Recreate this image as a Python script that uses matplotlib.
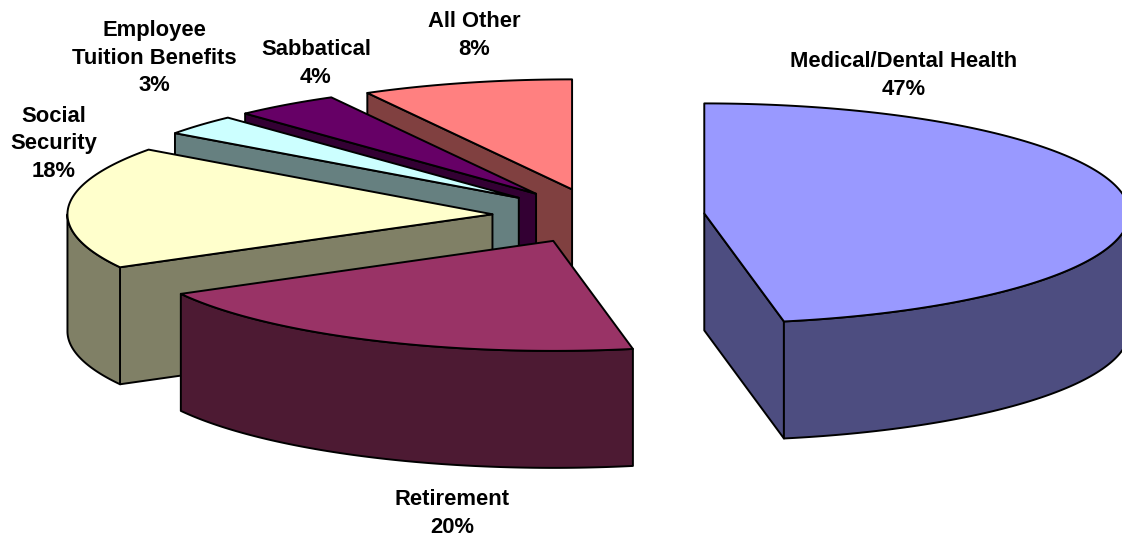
import numpy as np
import matplotlib
matplotlib.use("Agg")
import matplotlib.pyplot as plt
from matplotlib.patches import Polygon

# Data, clockwise from 12 o'clock
categories = ["Medical/Dental Health", "Retirement", "Social\nSecurity",
              "Employee\nTuition Benefits", "Sabbatical", "All Other"]
values = [47, 20, 18, 3, 4, 8]
top_colors = ["#9999FF", "#993366", "#FFFFCC", "#CCFFFF", "#660066", "#FF8080"]
side_colors = ["#4D4D80", "#4D1A33", "#808066", "#668080", "#330033", "#804040"]
label_xy = [(904, 75.5), (452, 513.5), (54, 144), (154, 58), (316, 63.5), (474, 35.5)]

# Projection of the pie onto the figure, in pixels
CX, CY = 598.5, 216
RX, RY = 425, 110
DEPTH = 117
EXPLODE = 0.25
DRAW_ORDER = [5, 4, 3, 2, 0, 1]

fig = plt.figure(figsize=(11.22, 5.37), dpi=100, facecolor="white")
ax = fig.add_axes([0, 0, 1, 1])
ax.set_xlim(0, 1122)
ax.set_ylim(537, 0)
ax.axis("off")


def rim(center, deg):
    t = np.radians(deg)
    return np.column_stack([center[0] + RX * np.sin(t), center[1] - RY * np.cos(t)])


def shape(points, color):
    ax.add_patch(Polygon(points, closed=True, facecolor=color, edgecolor="black",
                         linewidth=1.4, joinstyle="round"))


edges = np.concatenate([[0], np.cumsum(values)]) / np.sum(values) * 360
for i in DRAW_ORDER:
    a0, a1 = edges[i], edges[i + 1]
    mid = np.radians((a0 + a1) / 2)
    c = (CX + EXPLODE * RX * np.sin(mid), CY - EXPLODE * RY * np.cos(mid))
    down = np.array([0, DEPTH])
    apex = np.array([c])

    # Radial cut face at the clockwise start, seen when the slice lies above it
    start_pt = rim(c, np.array([a0]))
    if a0 > 180:
        shape(np.vstack([apex, start_pt, start_pt + down, apex + down]), side_colors[i])
    # Radial cut face at the clockwise end, seen when the slice lies above it
    end_pt = rim(c, np.array([a1]))
    if a1 < 180:
        shape(np.vstack([apex, end_pt, end_pt + down, apex + down]), side_colors[i])

    # Outer wall: only the front half of the rim is visible
    w0, w1 = max(a0, 90), min(a1, 270)
    if w1 > w0:
        arc = rim(c, np.linspace(w0, w1, 160))
        shape(np.vstack([arc, arc[::-1] + down]), side_colors[i])

    # Top
    arc = rim(c, np.linspace(a0, a1, 240))
    shape(np.vstack([apex, arc]), top_colors[i])

for name, v, (x, y) in zip(categories, values, label_xy):
    ax.text(x, y, f"{name}\n{v}%", ha="center", va="center", ma="center",
            family="Liberation Sans", weight="bold", fontsize=15.8, color="black",
            linespacing=1.43)

fig.savefig("out.png", dpi=100)
